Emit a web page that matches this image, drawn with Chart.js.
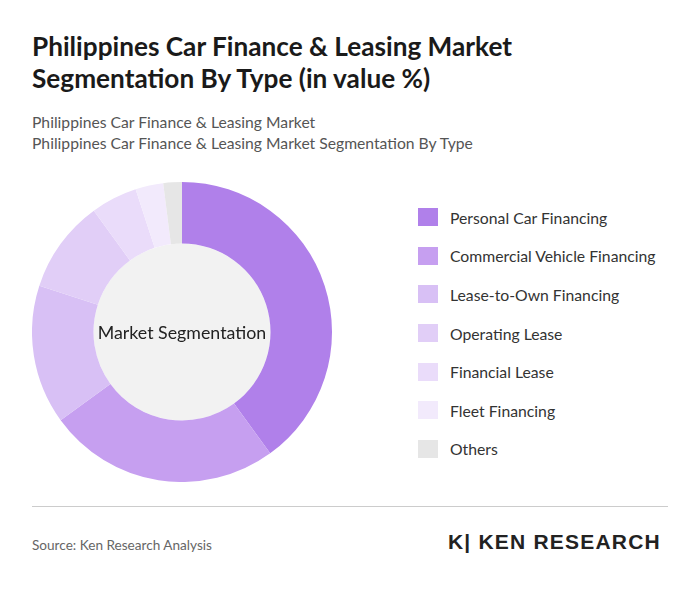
<!DOCTYPE html>
<html><head><meta charset="utf-8">
<script src="https://cdn.jsdelivr.net/npm/chart.js@4"></script>
<style>
body{margin:0;background:#fff;font-family:Lato,"Open Sans",sans-serif;}
#wrap{position:relative;width:700px;height:591px;overflow:hidden;}
h1{position:absolute;left:32px;top:30px;margin:0;font-size:26.2px;line-height:32px;font-weight:700;color:#1a1a1a;width:600px;}
.sub{position:absolute;left:32px;color:#555;font-size:15.7px;}
#chartBox{position:absolute;left:32px;top:182px;width:300px;height:300px;}
#legend{position:absolute;left:418px;top:198px;}
.li{display:flex;align-items:center;height:38.6px;font-size:15.75px;color:#333;}
.sw{width:20px;height:18px;margin-right:12px;}
#rule{position:absolute;left:32px;top:506px;width:636px;height:1px;background:#ccc;}
#src{position:absolute;left:32px;top:537px;font-size:13.6px;color:#666;}
#logo{position:absolute;left:448px;top:530px;font-size:21px;font-weight:700;color:#222;letter-spacing:1.2px;font-family:"Liberation Sans",sans-serif;}
</style></head><body>
<div id="wrap">
<h1>Philippines Car Finance &amp; Leasing Market<br>Segmentation By Type (in value %)</h1>
<div class="sub" style="top:113px">Philippines Car Finance &amp; Leasing Market</div>
<div class="sub" style="top:134px">Philippines Car Finance &amp; Leasing Market Segmentation By Type</div>
<div id="chartBox"><canvas id="c"></canvas></div>
<div id="legend"></div>
<div id="rule"></div>
<div id="src">Source: Ken Research Analysis</div>
<div id="logo">K| KEN RESEARCH</div>
</div>
<script>
const categories = ['Personal Car Financing','Commercial Vehicle Financing','Lease-to-Own Financing','Operating Lease','Financial Lease','Fleet Financing','Others'];
const values = [40, 25, 15, 10, 5, 3, 2];
const colors = ['#b080ea','#c69ff0','#d8c0f5','#e1cef7','#eadcfa','#f2eafc','#e6e6e6'];

const legend = document.getElementById('legend');
categories.forEach((c, i) => {
  legend.innerHTML += `<div class="li"><span class="sw" style="background:${colors[i]}"></span>${c}</div>`;
});

const centerPlugin = {
  id: 'center',
  beforeDatasetsDraw(chart) {
    const meta = chart.getDatasetMeta(0).data[0];
    if (!meta) return;
    const ctx = chart.ctx;
    ctx.save();
    ctx.beginPath();
    ctx.arc(meta.x, meta.y, meta.innerRadius, 0, Math.PI * 2);
    ctx.fillStyle = '#f2f2f2';
    ctx.fill();
    ctx.font = '17.8px Lato, sans-serif';
    ctx.fillStyle = '#222';
    ctx.textAlign = 'center';
    ctx.textBaseline = 'middle';
    ctx.fillText('Market Segmentation', meta.x, meta.y + 1);
    ctx.restore();
  }
};

new Chart(document.getElementById('c'), {
  type: 'doughnut',
  data: { labels: categories, datasets: [{ data: values, backgroundColor: colors, borderWidth: 0 }] },
  options: {
    responsive: true, maintainAspectRatio: false, animation: false,
    cutout: '59%',
    plugins: { legend: { display: false }, tooltip: { enabled: false } }
  },
  plugins: [centerPlugin]
});
</script>
</body></html>
